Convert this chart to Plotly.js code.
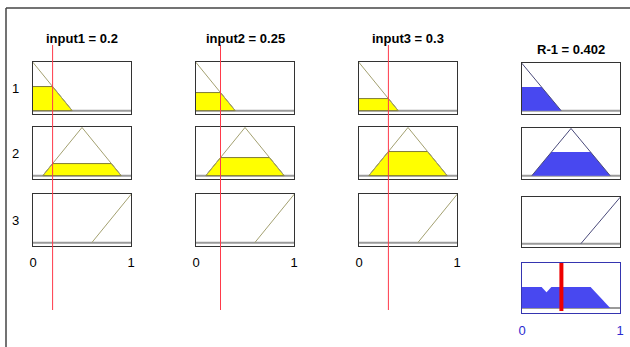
<!DOCTYPE html>
<html>
<head>
<meta charset="utf-8">
<script src="https://cdn.plot.ly/plotly-3.0.1.min.js"></script>
<style>html,body{margin:0;padding:0;background:#fff;}#chart{width:630px;height:347px;}</style>
</head>
<body>
<div id="chart"></div>
<script>
// ---- data ----
const inputNames = ['input1', 'input2', 'input3'];
const inputValues = [0.2, 0.25, 0.3];
const mfParams = [[-0.4, 0, 0.4], [0.1, 0.5, 0.9], [0.6, 1, 1.4]]; // trimf a,b,c for mf1..mf3
const ruleLabels = ['1', '2', '3'];
const outputName = 'R-1';
const outputValue = 0.402;
const tickVals = [0, 1];
const tickLabels = ['0', '1'];

// ---- helpers ----
const W = 630, H = 347;
const px = v => v / W;
const py = v => 1 - v / H;
function trimf(x, p) {
  const [a, b, c] = p;
  if (x <= a || x >= c) return 0;
  return x <= b ? (x - a) / (b - a) : (c - x) / (c - b);
}
function clipPoly(p, h) {
  const [a, b, c] = p;
  return {x: [a, a + h * (b - a), c - h * (c - b), c, a], y: [0, h, h, 0, 0]};
}
const fmt = v => String(v);

// layout geometry (pixels)
const inCols = [33, 196, 359];
const colW = 98;
const inRows = [[62, 114], [127, 179], [194, 246]];
const outCol = 522;
const outRows = [[63, 114], [128, 179], [197, 247]];
const aggRow = [263, 313];

const traces = [];
const layout = {
  width: W, height: H, margin: {l: 0, r: 0, t: 0, b: 0},
  paper_bgcolor: '#fff', plot_bgcolor: '#fff', showlegend: false,
  font: {family: 'Liberation Sans, Arial, sans-serif', size: 12, color: '#000'},
  shapes: [], annotations: []
};
let k = 0;
function addAxis(x0, x1, y0, y1, yr, frameColor, showTicks, tickColor, standoff) {
  k++;
  const xs = k === 1 ? '' : String(k);
  layout['xaxis' + xs] = {
    domain: [px(x0), px(x1)], range: [0, 1], anchor: 'y' + xs,
    showgrid: false, zeroline: false, showline: true, mirror: true,
    linecolor: frameColor, linewidth: 1, ticks: '', fixedrange: true,
    showticklabels: showTicks, tickvals: tickVals, ticktext: tickLabels,
    tickfont: {size: 13, color: tickColor}, ticklabelstandoff: standoff
  };
  layout['yaxis' + xs] = {
    domain: [py(y1), py(y0)], range: yr, anchor: 'x' + xs,
    showgrid: false, zeroline: false, showline: true, mirror: true,
    linecolor: frameColor, linewidth: 1, ticks: '', showticklabels: false, fixedrange: true
  };
  return {x: 'x' + xs, y: 'y' + xs};
}

const yrIn = [-0.07, 1.01];
const strengths = ruleLabels.map((_, r) => Math.max(...inputValues.map(v => trimf(v, mfParams[r]))));

// input panels
inputNames.forEach((name, c) => {
  let topAx = null;
  ruleLabels.forEach((lab, r) => {
    const ax = addAxis(inCols[c], inCols[c] + colW, inRows[r][0], inRows[r][1], yrIn,
      '#333333', r === ruleLabels.length - 1, '#000', 4);
    if (r === 0) topAx = ax;
    layout.shapes.push({type: 'line', xref: ax.x, yref: ax.y, x0: 0, x1: 1, y0: 0, y1: 0,
      line: {color: '#9a9a9a', width: 2}, layer: 'below'});
    const h = trimf(inputValues[c], mfParams[r]);
    if (h > 0) {
      const poly = clipPoly(mfParams[r], h);
      traces.push({x: poly.x, y: poly.y, xaxis: ax.x, yaxis: ax.y, mode: 'lines', fill: 'toself',
        fillcolor: '#ffff00', line: {color: '#7d7a3a', width: 1}, hoverinfo: 'skip'});
    }
    const p = mfParams[r];
    traces.push({x: [p[0], p[1], p[2]], y: [0, 1, 0], xaxis: ax.x, yaxis: ax.y, mode: 'lines',
      line: {color: '#a3a070', width: 1}, hoverinfo: 'skip'});
  });
  layout.shapes.push({type: 'line', xref: topAx.x, yref: 'paper', x0: inputValues[c], x1: inputValues[c],
    y0: py(310), y1: py(45), line: {color: '#ff3a4a', width: 1}});
  layout.annotations.push({xref: 'paper', yref: 'paper', x: px(inCols[c] + colW / 2), y: py(38),
    text: '<b>' + name + ' = ' + fmt(inputValues[c]) + '</b>', showarrow: false,
    font: {size: 13, color: '#000'}, xanchor: 'center', yanchor: 'middle'});
});

// row labels
ruleLabels.forEach((lab, r) => {
  layout.annotations.push({xref: 'paper', yref: 'paper', x: px(15), y: py((inRows[r][0] + inRows[r][1]) / 2),
    text: lab, showarrow: false, font: {size: 13, color: '#000'}, xanchor: 'center', yanchor: 'middle'});
});

// output panels
ruleLabels.forEach((lab, r) => {
  const ax = addAxis(outCol, outCol + colW, outRows[r][0], outRows[r][1], yrIn, '#333333', false, '#000', 4);
  layout.shapes.push({type: 'line', xref: ax.x, yref: ax.y, x0: 0, x1: 1, y0: 0, y1: 0,
    line: {color: '#9a9a9a', width: 2}, layer: 'below'});
  const h = strengths[r];
  if (h > 0) {
    const poly = clipPoly(mfParams[r], h);
    traces.push({x: poly.x, y: poly.y, xaxis: ax.x, yaxis: ax.y, mode: 'lines', fill: 'toself',
      fillcolor: '#4848f0', line: {color: '#4848f0', width: 0}, hoverinfo: 'skip'});
  }
  const p = mfParams[r];
  traces.push({x: [p[0], p[1], p[2]], y: [0, 1, 0], xaxis: ax.x, yaxis: ax.y, mode: 'lines',
    line: {color: '#4a4a7a', width: 1}, hoverinfo: 'skip'});
});
layout.annotations.push({xref: 'paper', yref: 'paper', x: px(outCol + colW / 2), y: py(50),
  text: '<b>' + outputName + ' = ' + fmt(outputValue) + '</b>', showarrow: false,
  font: {size: 13, color: '#000'}, xanchor: 'center', yanchor: 'middle'});

// aggregated output
const agg = addAxis(outCol, outCol + colW, aggRow[0], aggRow[1], [-0.12, 1.07], '#3535b0', true, '#2a2ad0', 5);
layout.shapes.push({type: 'line', xref: agg.x, yref: agg.y, x0: 0, x1: 1, y0: 0, y1: 0,
  line: {color: '#9a9a9a', width: 2}, layer: 'below'});
ruleLabels.forEach((lab, r) => {
  const h = strengths[r];
  if (h > 0) {
    const poly = clipPoly(mfParams[r], h);
    traces.push({x: poly.x, y: poly.y, xaxis: agg.x, yaxis: agg.y, mode: 'lines', fill: 'toself',
      fillcolor: '#4848f0', line: {color: '#4848f0', width: 0}, hoverinfo: 'skip'});
  }
});
layout.shapes.push({type: 'line', xref: agg.x, yref: agg.y + ' domain', x0: outputValue, x1: outputValue,
  y0: 0.04, y1: 1, line: {color: '#ee0000', width: 4}});

// outer frame lines
layout.shapes.push({type: 'line', xref: 'paper', yref: 'paper', x0: px(6), x1: px(6), y0: 0, y1: py(8),
  line: {color: '#444', width: 1.5}});
layout.shapes.push({type: 'line', xref: 'paper', yref: 'paper', x0: px(6), x1: 1, y0: py(8), y1: py(8),
  line: {color: '#444', width: 1.5}});

Plotly.newPlot('chart', traces, layout, {staticPlot: true, displayModeBar: false});
</script>
</body>
</html>
